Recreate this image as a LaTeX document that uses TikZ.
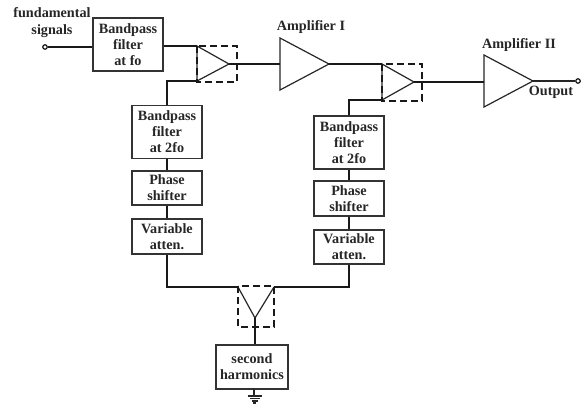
\documentclass[tikz,border=0pt]{standalone}
\usepackage{fontspec}
\setmainfont{Liberation Serif}
\tikzset{
 box/.style={draw=black!80,line width=1.4pt,inner sep=0pt,align=center,font=\fontsize{14.2}{16}\selectfont\bfseries,text=black!85},
 lbl/.style={inner sep=0pt,align=center,font=\fontsize{14.2}{17}\selectfont\bfseries,text=black!85},
 wire/.style={line width=1.9pt,black!90},
 thinwire/.style={line width=1.1pt,black!85},
 tri/.style={line width=1.2pt,black!85,line join=miter},
 dbox/.style={line width=1.6pt,black!90,dash pattern=on 7pt off 4pt},
 term/.style={circle,draw=black,line width=1.1pt,fill=white,minimum size=4.5pt,inner sep=0pt}
}
\begin{document}
\begin{tikzpicture}[x=1pt,y=-1pt]
\useasboundingbox (0,0) rectangle (586,405);
% boxes
\node[box,minimum width=70pt,minimum height=53pt] (f0) at (128,44.5) {Bandpass\\filter\\at fo};
\node[box,minimum width=70pt,minimum height=53pt] (b1) at (167,132) {Bandpass\\filter\\at 2fo};
\node[box,minimum width=70pt,minimum height=34pt] (p1) at (167,188) {Phase\\shifter};
\node[box,minimum width=70pt,minimum height=35pt] (v1) at (167,236.5) {Variable\\atten.};
\node[box,minimum width=70pt,minimum height=53pt] (b2) at (349,142.5) {Bandpass\\filter\\at 2fo};
\node[box,minimum width=70pt,minimum height=35pt] (p2) at (349,198.5) {Phase\\shifter};
\node[box,minimum width=70pt,minimum height=34pt] (v2) at (349,247) {Variable\\atten.};
\node[box,minimum width=72pt,minimum height=44pt] (sh) at (252,367) {second\\harmonics};
% labels
\node[lbl] (lf) at (52,23) {fundamental\\signals};
\node[lbl] (la1) at (311,27) {Amplifier I};
\node[lbl] (la2) at (519,45.5) {Amplifier II};
\node[lbl] (lo) at (551,92) {Output};
% terminals
\node[term] (tin) at (45,47) {};
\node[term] (tout) at (578,81) {};
% triangle vertices
\coordinate (m1a) at (197,46); \coordinate (m1b) at (197,81); \coordinate (m1t) at (229,64);
\coordinate (a1a) at (280,38); \coordinate (a1b) at (280,90); \coordinate (a1t) at (329,64);
\coordinate (m2a) at (382,64); \coordinate (m2b) at (382,100); \coordinate (m2t) at (414,82);
\coordinate (a2a) at (484,55); \coordinate (a2b) at (484,107); \coordinate (a2t) at (533,81);
\coordinate (a2m) at (484,82); \coordinate (a1m) at (280,64);
\coordinate (c1a) at (238,287); \coordinate (c1b) at (274,287); \coordinate (c1t) at (255,318);
\coordinate (gt) at (254,389); \coordinate (gb) at (254,396);
% triangles
\draw[tri] (m1a)--(m1t)--(m1b)--cycle;
\draw[tri] (a1a)--(a1t)--(a1b)--cycle;
\draw[tri] (m2a)--(m2t)--(m2b)--cycle;
\draw[tri] (a2a)--(a2t)--(a2b)--cycle;
\draw[tri] (c1a)--(c1t)--(c1b);
% dashed boxes
\draw[dbox] (197,46) rectangle (237,82);
\draw[dbox] (382,64) rectangle (422,101);
\draw[dbox] (238,286) rectangle (274,327);
% connectors
\draw[wire] (tin) -- (tin-|f0.west);
\draw[wire] (m1a-|f0.east) -- (m1a);
\draw[wire] (b1.north) -- (m1b-|b1.north) -- (m1b);
\draw[wire] (m1t) -- (a1m);
\draw[wire] (a1t) -- (m2a);
\draw[wire] (b2.north) -- (m2b-|b2.north) -- (m2b);
\draw[wire] (m2t) -- (a2m);
\draw[thinwire] (a2t) -- (tout);
\draw[wire] (b1) -- (p1);
\draw[wire] (p1) -- (v1);
\draw[wire] (b2) -- (p2);
\draw[wire] (p2) -- (v2);
\draw[wire] (v1.south) -- (c1a-|v1.south) -- (c1a);
\draw[wire] (v2.south) -- (c1b-|v2.south) -- (c1b);
\draw[wire] (c1t) -- (c1t|-sh.north);
% ground
\draw[thinwire] (gt) -- (gb);
\draw[line width=1.3pt,black!85] (247.5,396) -- (261.5,396);
\draw[line width=1.3pt,black!85] (249.5,398.5) -- (259.5,398.5);
\draw[line width=1.3pt,black!85] (251.5,401) -- (257.5,401);
\draw[line width=1.3pt,black!85] (253,403) -- (256,403);
\end{tikzpicture}
\end{document}
